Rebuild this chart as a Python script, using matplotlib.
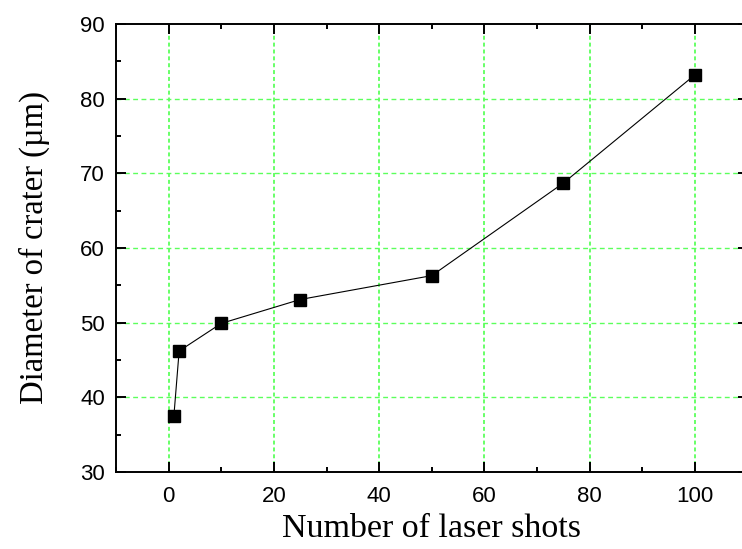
import numpy as np
import matplotlib
matplotlib.use("Agg")
import matplotlib.pyplot as plt
from matplotlib.ticker import MultipleLocator

# data
shots = [1, 2, 10, 25, 50, 75, 100]
diameter = [37.5, 46.2, 49.9, 53.1, 56.3, 68.7, 83.2]

x_ticks = [0, 20, 40, 60, 80, 100]
y_ticks = [30, 40, 50, 60, 70, 80, 90]

fig = plt.figure(figsize=(7.42, 5.49), dpi=100)
ax = fig.add_axes([0.1563, 0.1403, 0.8513, 0.8160])

grid_col = "#5cff5c"
for xv in x_ticks:
    ax.axvline(xv, color=grid_col, lw=1.3, ls=(0, (2.2, 1.6)), zorder=1)
for yv in y_ticks[1:-1]:
    ax.axhline(yv, color=grid_col, lw=1.0, ls=(0, (3.5, 2.5)), zorder=1)

ax.plot(shots, diameter, color="black", lw=0.8, marker="s", markersize=8,
        markerfacecolor="black", markeredgecolor="black", zorder=3, clip_on=False)

ax.set_xlim(-10, 110)
ax.set_ylim(30, 90)
ax.set_xticks(x_ticks)
ax.set_yticks(y_ticks)
ax.xaxis.set_minor_locator(MultipleLocator(10))
ax.yaxis.set_minor_locator(MultipleLocator(5))

ax.tick_params(which="both", direction="in", top=True, right=True, width=1.4)
ax.tick_params(which="major", length=7)
ax.tick_params(which="minor", length=3.5)
ax.tick_params(axis="both", labelsize=16)
ax.tick_params(axis="x", pad=10)
ax.tick_params(axis="y", pad=8)
for lab in ax.get_xticklabels() + ax.get_yticklabels():
    lab.set_fontfamily("Liberation Sans")
for sp in ax.spines.values():
    sp.set_linewidth(1.4)

ax.set_xlabel("Number of laser shots", fontfamily="Liberation Serif", fontsize=24.5, labelpad=5)
ax.set_ylabel("Diameter of crater (\u00b5m)", fontfamily="Liberation Serif", fontsize=23.5, labelpad=22)

fig.savefig("out.png", dpi=100)
